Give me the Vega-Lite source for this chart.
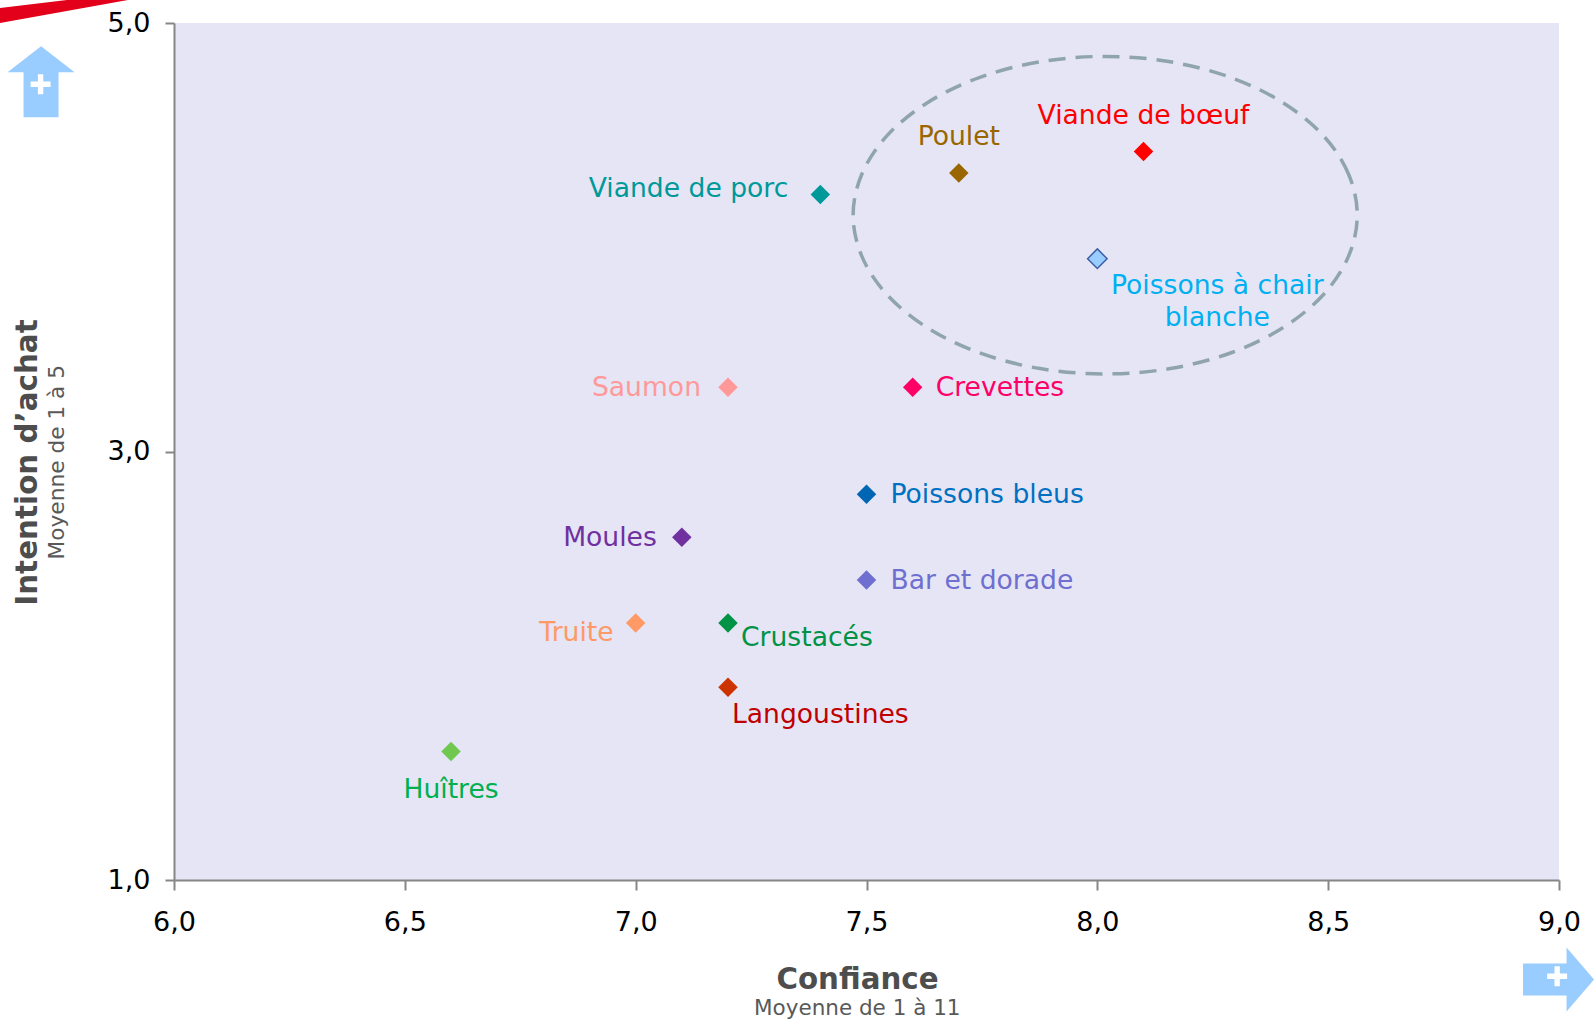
{"$schema":"https://vega.github.io/schema/vega-lite/v6.json","width":1385,"height":857,"autosize":"none","padding":{"left":174,"top":23,"right":37,"bottom":147},"background":"#FFFFFF","config":{"view":{"fill":"#E5E5F6","stroke":null},"text":{"font":"DejaVu Sans","fontSize":26.6}},"datasets":{"foods":[{"name":"Viande de bœuf","confiance":8.1,"intention":4.4},{"name":"Poulet","confiance":7.7,"intention":4.3},{"name":"Viande de porc","confiance":7.4,"intention":4.2},{"name":"Poissons à chair|blanche","confiance":8.0,"intention":3.9},{"name":"Saumon","confiance":7.2,"intention":3.3},{"name":"Crevettes","confiance":7.6,"intention":3.3},{"name":"Poissons bleus","confiance":7.5,"intention":2.8},{"name":"Moules","confiance":7.1,"intention":2.6},{"name":"Bar et dorade","confiance":7.5,"intention":2.4},{"name":"Truite","confiance":7.0,"intention":2.2},{"name":"Crustacés","confiance":7.2,"intention":2.2},{"name":"Langoustines","confiance":7.2,"intention":1.9},{"name":"Huîtres","confiance":6.6,"intention":1.6}],"ellipse":[{"i":0,"confiance":8.563,"intention":4.103},{"i":1,"confiance":8.544,"intention":4.295},{"i":2,"confiance":8.49,"intention":4.473},{"i":3,"confiance":8.403,"intention":4.627},{"i":4,"confiance":8.29,"intention":4.745},{"i":5,"confiance":8.158,"intention":4.819},{"i":6,"confiance":8.017,"intention":4.844},{"i":7,"confiance":7.876,"intention":4.819},{"i":8,"confiance":7.744,"intention":4.745},{"i":9,"confiance":7.631,"intention":4.627},{"i":10,"confiance":7.544,"intention":4.473},{"i":11,"confiance":7.49,"intention":4.295},{"i":12,"confiance":7.471,"intention":4.103},{"i":13,"confiance":7.49,"intention":3.911},{"i":14,"confiance":7.544,"intention":3.733},{"i":15,"confiance":7.631,"intention":3.579},{"i":16,"confiance":7.744,"intention":3.461},{"i":17,"confiance":7.876,"intention":3.387},{"i":18,"confiance":8.017,"intention":3.362},{"i":19,"confiance":8.158,"intention":3.387},{"i":20,"confiance":8.29,"intention":3.461},{"i":21,"confiance":8.403,"intention":3.579},{"i":22,"confiance":8.49,"intention":3.733},{"i":23,"confiance":8.544,"intention":3.911}],"notes":[{"note":"swoosh","confiance":5.623,"intention":5.107},{"note":"up","confiance":5.712,"intention":4.726},{"note":"upPlus","confiance":5.711,"intention":4.714},{"note":"right","confiance":8.999,"intention":0.536},{"note":"rightPlus","confiance":8.996,"intention":0.551},{"note":"subX","confiance":7.48,"intention":0.396,"label":"Moyenne de 1 à 11"},{"note":"subY","confiance":5.747,"intention":2.95,"label":"Moyenne de 1 à 5"}]},"data":{"name":"foods"},"encoding":{"x":{"field":"confiance","type":"quantitative","scale":{"domain":[6,9],"nice":false,"zero":false},"axis":{"values":[6,6.5,7,7.5,8,8.5,9],"labelExpr":"replace(format(datum.value,'.1f'),'.',',')","grid":false,"domainColor":"#868686","domainWidth":2,"tickColor":"#868686","tickWidth":2,"tickSize":10,"labelFont":"DejaVu Sans","labelFontSize":27,"labelColor":"#000000","labelPadding":19,"labelFlush":false,"labelOverlap":false,"title":"Confiance","titleFont":"DejaVu Sans","titleFontSize":29.3,"titleFontWeight":"bold","titleColor":"#4D4D4D","titleAnchor":"start","titleAlign":"center","titleBaseline":"middle","titleX":683,"titleY":99}},"y":{"field":"intention","type":"quantitative","scale":{"domain":[1,5],"nice":false,"zero":false},"axis":{"values":[1,3,5],"labelExpr":"replace(format(datum.value,'.1f'),'.',',')","grid":false,"domainColor":"#868686","domainWidth":2,"tickColor":"#868686","tickWidth":2,"tickSize":9,"labelFont":"DejaVu Sans","labelFontSize":27,"labelColor":"#000000","labelPadding":15,"labelFlush":false,"labelOverlap":false,"title":"Intention d’achat","titleFont":"DejaVu Sans","titleFontSize":29.4,"titleFontWeight":"bold","titleColor":"#4D4D4D","titleAnchor":"start","titleAlign":"center","titleBaseline":"middle","titleAngle":270,"titleX":-147,"titleY":439}}},"layer":[{"data":{"name":"ellipse"},"mark":{"type":"line","interpolate":"cardinal-closed","stroke":"#8FA5AB","strokeWidth":3.5,"strokeDash":[17,10]},"encoding":{"order":{"field":"i","type":"quantitative"}}},{"mark":{"type":"point","shape":"diamond","filled":true,"size":380,"opacity":1},"encoding":{"color":{"field":"name","type":"nominal","legend":null,"scale":{"domain":["Viande de bœuf","Poulet","Viande de porc","Poissons à chair|blanche","Saumon","Crevettes","Poissons bleus","Moules","Bar et dorade","Truite","Crustacés","Langoustines","Huîtres"],"range":["#FF0000","#996600","#009999","#99CCFF","#FF9999","#FF0066","#0066B3","#7030A0","#6F6FD0","#FF9966","#009245","#CC3300","#70C850"]}}}},{"transform":[{"filter":"datum.name=='Poissons à chair|blanche'"}],"mark":{"type":"point","shape":"diamond","filled":false,"size":380,"stroke":"#3F5FA5","strokeWidth":1.5,"opacity":1}},{"transform":[{"filter":"datum.name=='Viande de bœuf'"}],"mark":{"type":"text","align":"center","baseline":"middle","dy":-36,"color":"#FF0000"},"encoding":{"text":{"field":"name"}}},{"transform":[{"filter":"datum.name=='Poulet'"}],"mark":{"type":"text","align":"center","baseline":"middle","dy":-36,"color":"#996600"},"encoding":{"text":{"field":"name"}}},{"transform":[{"filter":"datum.name=='Viande de porc'"}],"mark":{"type":"text","align":"right","baseline":"middle","dx":-32,"dy":-5,"color":"#009999"},"encoding":{"text":{"field":"name"}}},{"transform":[{"filter":"datum.name=='Poissons à chair|blanche'"}],"mark":{"type":"text","align":"center","baseline":"middle","dx":120,"dy":27,"lineBreak":"|","lineHeight":32,"color":"#00B0F0"},"encoding":{"text":{"field":"name"}}},{"transform":[{"filter":"datum.name=='Saumon'"}],"mark":{"type":"text","align":"right","baseline":"middle","dx":-27,"dy":1,"color":"#FF9999"},"encoding":{"text":{"field":"name"}}},{"transform":[{"filter":"datum.name=='Crevettes'"}],"mark":{"type":"text","align":"left","baseline":"middle","dx":23,"dy":1,"color":"#FF0066"},"encoding":{"text":{"field":"name"}}},{"transform":[{"filter":"datum.name=='Poissons bleus'"}],"mark":{"type":"text","align":"left","baseline":"middle","dx":24,"dy":1,"color":"#0070C0"},"encoding":{"text":{"field":"name"}}},{"transform":[{"filter":"datum.name=='Moules'"}],"mark":{"type":"text","align":"right","baseline":"middle","dx":-25,"dy":1,"color":"#7030A0"},"encoding":{"text":{"field":"name"}}},{"transform":[{"filter":"datum.name=='Bar et dorade'"}],"mark":{"type":"text","align":"left","baseline":"middle","dx":24,"dy":1,"color":"#6F6FD0"},"encoding":{"text":{"field":"name"}}},{"transform":[{"filter":"datum.name=='Truite'"}],"mark":{"type":"text","align":"right","baseline":"middle","dx":-22,"dy":10,"color":"#FF9966"},"encoding":{"text":{"field":"name"}}},{"transform":[{"filter":"datum.name=='Crustacés'"}],"mark":{"type":"text","align":"left","baseline":"middle","dx":13,"dy":15,"color":"#009245"},"encoding":{"text":{"field":"name"}}},{"transform":[{"filter":"datum.name=='Langoustines'"}],"mark":{"type":"text","align":"left","baseline":"middle","dx":4,"dy":28,"color":"#C00000"},"encoding":{"text":{"field":"name"}}},{"transform":[{"filter":"datum.name=='Huîtres'"}],"mark":{"type":"text","align":"center","baseline":"middle","dy":39,"color":"#00B050"},"encoding":{"text":{"field":"name"}}},{"data":{"name":"notes"},"transform":[{"filter":"datum.note=='swoosh'"}],"mark":{"type":"point","filled":true,"size":4,"opacity":1,"color":"#E2001A","strokeWidth":0,"shape":"M0,8 L67,0 L128,0 L0,23 Z"}},{"data":{"name":"notes"},"transform":[{"filter":"datum.note=='up'"}],"mark":{"type":"point","filled":true,"size":4,"opacity":1,"color":"#99CCFF","strokeWidth":0,"shape":"M0,-35.5 L33.5,-9.5 L17.5,-9.5 L17.5,35.5 L-17.5,35.5 L-17.5,-9.5 L-33.5,-9.5 Z"}},{"data":{"name":"notes"},"transform":[{"filter":"datum.note=='right'"}],"mark":{"type":"point","filled":true,"size":4,"opacity":1,"color":"#99CCFF","strokeWidth":0,"shape":"M35.5,0 L8,-32 L8,-16 L-35.5,-16 L-35.5,16 L8,16 L8,32 Z"}},{"data":{"name":"notes"},"transform":[{"filter":"datum.note=='upPlus'||datum.note=='rightPlus'"}],"mark":{"type":"point","filled":true,"size":4,"opacity":1,"color":"#FFFFFF","strokeWidth":0,"shape":"M-2.7,-10 L2.7,-10 L2.7,-2.7 L10,-2.7 L10,2.7 L2.7,2.7 L2.7,10 L-2.7,10 L-2.7,2.7 L-10,2.7 L-10,-2.7 L-2.7,-2.7 Z"}},{"data":{"name":"notes"},"transform":[{"filter":"datum.note=='subX'"}],"mark":{"type":"text","align":"center","baseline":"middle","fontSize":21.5,"color":"#595959"},"encoding":{"text":{"field":"label"}}},{"data":{"name":"notes"},"transform":[{"filter":"datum.note=='subY'"}],"mark":{"type":"text","align":"center","baseline":"middle","fontSize":21.7,"angle":270,"color":"#595959"},"encoding":{"text":{"field":"label"}}}]}
